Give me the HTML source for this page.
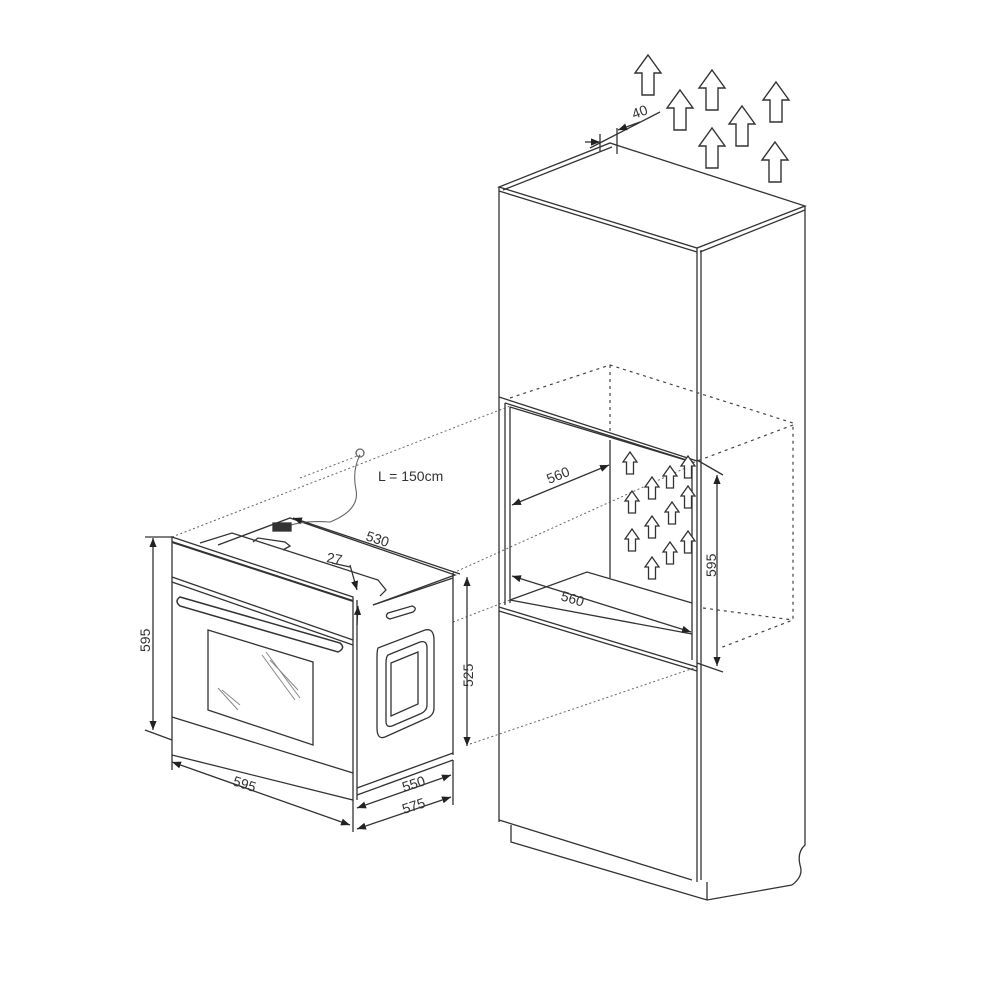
<!DOCTYPE html>
<html><head><meta charset="utf-8"><style>html,body{margin:0;padding:0;background:#fff}svg{display:block}</style></head>
<body>
<svg width="1000" height="1000" viewBox="0 0 1000 1000" xmlns="http://www.w3.org/2000/svg" font-family="Liberation Sans, sans-serif">
<defs>
<marker id="ah" viewBox="0 0 10 10" refX="10" refY="5" markerWidth="9" markerHeight="9" orient="auto-start-reverse" markerUnits="userSpaceOnUse"><path d="M0,1 L10,5 L0,9 z" fill="#222"/></marker>
<g id="up"><path d="M0,0 L13,18 L6,18 L6,40 L-6,40 L-6,18 L-13,18 Z" fill="#fff" stroke="#333" stroke-width="1.4"/></g>
<g id="sup"><path d="M0,0 L7,10 L3.5,10 L3.5,22 L-3.5,22 L-3.5,10 L-7,10 Z" fill="#fff" stroke="#333" stroke-width="1.3"/></g>
</defs>
<g fill="none" stroke="#333" stroke-width="1.3">
<g stroke="#666" stroke-width="1" stroke-dasharray="2,2.5">
<line x1="172" y1="537" x2="510" y2="406"/>
<line x1="453" y1="573" x2="692" y2="465"/>
<line x1="453" y1="622" x2="510" y2="600"/>
<line x1="470" y1="744" x2="697" y2="667"/>
<line x1="300" y1="478" x2="360" y2="455"/>
</g>
<!-- cabinet -->
<path d="M499,187 L610,143 L805,206 L697,248 Z"/>
<line x1="503" y1="190" x2="612" y2="147"/>
<line x1="499" y1="191" x2="697" y2="252"/>
<line x1="700" y1="252" x2="805" y2="210"/>
<line x1="499" y1="187" x2="499" y2="822"/>
<line x1="697" y1="248" x2="697" y2="882"/>
<line x1="701" y1="250" x2="701" y2="880"/>
<path d="M805,206 L805,845 Q797,852 800,865 Q804,876 792,885"/>
<line x1="499" y1="397" x2="697" y2="461"/>
<line x1="510" y1="407" x2="692" y2="462"/>
<line x1="505" y1="403" x2="693" y2="462"/>
<line x1="510" y1="407" x2="510" y2="603"/>
<line x1="505" y1="403" x2="505" y2="605"/>
<line x1="692" y1="462" x2="692" y2="660"/>
<line x1="610" y1="440" x2="610" y2="578"/>
<path d="M510,600 L587,572 L692,603"/>
<line x1="510" y1="600" x2="692" y2="634"/>
<line x1="499" y1="607" x2="697" y2="667"/>
<line x1="499" y1="611" x2="697" y2="671"/>
<line x1="499" y1="820" x2="692" y2="880"/>
<path d="M511,825 L511,842 L707,900 L792,885"/>
<line x1="707" y1="900" x2="707" y2="882"/>
<g stroke="#444" stroke-width="1.2" stroke-dasharray="3,4">
<path d="M510,398 L610,365 L793,423 L793,620 L720,648"/>
<line x1="610" y1="365" x2="610" y2="440"/>
<line x1="692" y1="463" x2="793" y2="425"/>
<line x1="703" y1="608" x2="793" y2="620"/>
</g>
<line x1="697" y1="460" x2="723" y2="475"/>
<line x1="697" y1="663" x2="723" y2="672"/>
<line x1="717" y1="475" x2="717" y2="666" marker-start="url(#ah)" marker-end="url(#ah)"/>
<line x1="512" y1="505" x2="609" y2="465" marker-start="url(#ah)" marker-end="url(#ah)"/>
<line x1="512" y1="576" x2="691" y2="632" marker-start="url(#ah)" marker-end="url(#ah)"/>
<line x1="590" y1="148" x2="660" y2="112"/>
<line x1="600" y1="134" x2="600" y2="152"/>
<line x1="617" y1="128" x2="617" y2="154"/>
<line x1="585" y1="142" x2="600" y2="142" marker-end="url(#ah)"/>
<line x1="640" y1="122" x2="618" y2="130" marker-end="url(#ah)"/>
<!-- oven -->
<path d="M172,537 L353,597 L353,800 L172,755 Z"/>
<line x1="172" y1="542" x2="353" y2="601" stroke-width="2"/>
<line x1="172" y1="577" x2="353" y2="640"/>
<line x1="172" y1="582" x2="353" y2="645"/>
<line x1="172" y1="717" x2="353" y2="773"/>
<line x1="357" y1="600" x2="357" y2="800"/>
<path d="M180,597 L340,643 Q346,648 338,652 L180,606 Q174,601 180,597 Z" stroke-width="1.5"/>
<path d="M208,630 L313,662 L313,745 L208,710 Z"/>
<g stroke="#888" stroke-width="1">
<line x1="262" y1="655" x2="295" y2="700"/><line x1="266" y1="652" x2="300" y2="698"/><line x1="270" y1="660" x2="298" y2="690"/>
<line x1="218" y1="688" x2="238" y2="710"/><line x1="222" y1="690" x2="240" y2="705"/>
</g>
<path d="M218,545 L290,518 L455,575 L373,605"/>
<path d="M200,543 L232,533 L378,580 L386,590 L380,596"/>
<path d="M253,542 L258,538 L285,542 L290,546 L283,550"/>
<line x1="373" y1="605" x2="453" y2="578"/>
<line x1="453" y1="573" x2="453" y2="755"/>
<line x1="357" y1="788" x2="453" y2="753"/>
<line x1="357" y1="795" x2="453" y2="760"/>
<path d="M388,613 L412,606 Q418,608 413,612 L390,619 Q384,617 388,613 Z"/>
<path d="M378,648 L425,630 Q434,628 434,640 L434,708 Q434,716 425,719 L385,737 Q377,740 377,728 L377,658 Q377,650 378,648 Z"/>
<path d="M388,655 L420,642 Q427,640 427,648 L427,705 Q427,711 420,714 L392,726 Q386,728 386,721 L386,663 Q386,657 388,655 Z"/>
<path d="M391,663 L418,652 L418,704 L391,716 Z"/>
<path d="M283,528 Q300,520 330,522 Q360,510 356,490 Q352,470 360,455" stroke-width="1.1" stroke="#666"/>
<circle cx="360" cy="453" r="4" stroke="#666"/>
<rect x="273" y="523" width="18" height="8" fill="#333"/>
<line x1="153" y1="538" x2="153" y2="730" marker-start="url(#ah)" marker-end="url(#ah)"/>
<line x1="145" y1="537" x2="172" y2="537"/>
<line x1="145" y1="730" x2="172" y2="740"/>
<line x1="172" y1="762" x2="350" y2="825" marker-start="url(#ah)" marker-end="url(#ah)"/>
<line x1="172" y1="755" x2="172" y2="770"/>
<line x1="353" y1="800" x2="353" y2="832"/>
<line x1="357" y1="808" x2="451" y2="775" marker-start="url(#ah)" marker-end="url(#ah)"/>
<line x1="357" y1="829" x2="451" y2="797" marker-start="url(#ah)" marker-end="url(#ah)"/>
<line x1="453" y1="760" x2="453" y2="805"/>
<line x1="467" y1="577" x2="467" y2="746" marker-start="url(#ah)" marker-end="url(#ah)"/>
<line x1="293" y1="518" x2="460" y2="574" marker-start="url(#ah)"/>
<line x1="350" y1="565" x2="357" y2="590" marker-end="url(#ah)"/>
<line x1="357" y1="625" x2="358" y2="606" marker-end="url(#ah)"/>
<line x1="332" y1="563" x2="350" y2="567"/>
</g>
<use href="#up" x="648" y="55"/><use href="#up" x="712" y="70"/><use href="#up" x="680" y="90"/>
<use href="#up" x="776" y="82"/><use href="#up" x="742" y="106"/><use href="#up" x="712" y="128"/><use href="#up" x="775" y="142"/>
<use href="#sup" x="630" y="452"/><use href="#sup" x="670" y="466"/><use href="#sup" x="652" y="477"/>
<use href="#sup" x="632" y="491"/><use href="#sup" x="672" y="502"/><use href="#sup" x="652" y="516"/>
<use href="#sup" x="632" y="529"/><use href="#sup" x="670" y="542"/><use href="#sup" x="652" y="557"/>
<use href="#sup" x="688" y="456"/><use href="#sup" x="688" y="486"/><use href="#sup" x="688" y="531"/>
<g fill="#333" font-size="14">
<text x="378" y="481">L = 150cm</text>
<text transform="translate(365,540) rotate(18)">530</text>
<text transform="translate(326,562) rotate(10)">27</text>
<text transform="translate(150,652) rotate(-90)">595</text>
<text transform="translate(232,785) rotate(18)">595</text>
<text transform="translate(404,792) rotate(-18)">550</text>
<text transform="translate(404,814) rotate(-18)">575</text>
<text transform="translate(473,687) rotate(-90)">525</text>
<text transform="translate(549,484) rotate(-22)">560</text>
<text transform="translate(560,600) rotate(17)">560</text>
<text transform="translate(716,577) rotate(-90)">595</text>
<text transform="translate(634,119) rotate(-20)">40</text>
</g>
</svg>
</body></html>
